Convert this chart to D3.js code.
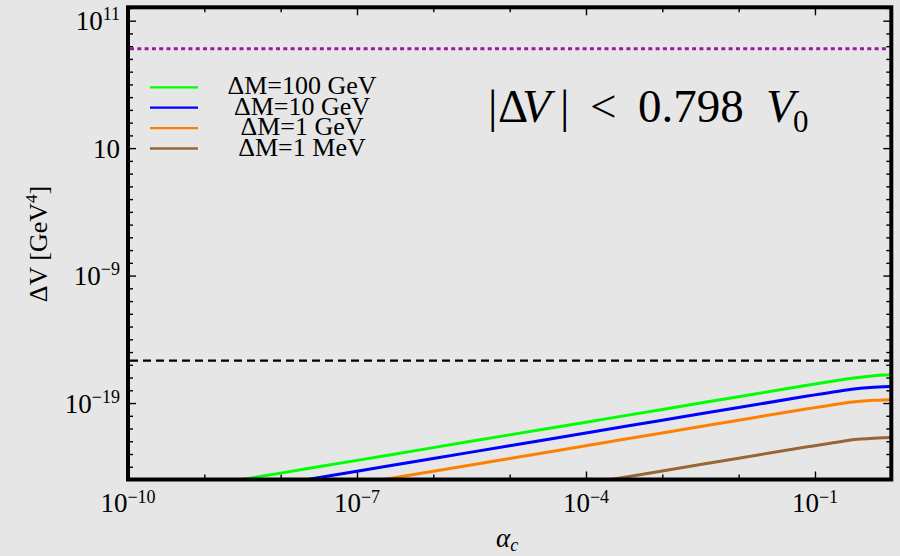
<!DOCTYPE html>
<html>
<head>
<meta charset="utf-8">
<script src="https://cdn.jsdelivr.net/npm/d3@7"></script>
<style>
  html, body { margin: 0; padding: 0; background: #e6e6e6; }
  svg { display: block; }
  text { font-family: "Liberation Serif", "DejaVu Serif", serif; fill: #000; }
</style>
</head>
<body>
<svg id="chart" width="900" height="556"></svg>
<script>
// alpha_c grid, as log10 values
const alphaLog = [-9, -8, -7, -6, -5, -4, -3, -2, -1, -0.6, -0.4, -0.22, -0.1, 0];

// log10(Delta V), null = below the frame
const green  = [-25.5, -24.5, -23.5, -22.5, -21.5, -20.5, -19.5, -18.5, -17.5, -17.12, -16.97, -16.86, -16.8, -16.78];
const blue   = [null, -25.35, -24.35, -23.35, -22.35, -21.35, -20.35, -19.35, -18.35, -17.97, -17.84, -17.76, -17.72, -17.7];
const orange = [null, null, -25.35, -24.35, -23.35, -22.35, -21.35, -20.35, -19.35, -18.97, -18.84, -18.78, -18.75, -18.74];
const brown  = [null, null, null, null, null, -25.33, -24.33, -23.33, -22.33, -21.95, -21.82, -21.75, -21.72, -21.7];

const seriesNames = ["ΔM=100 GeV", "ΔM=10 GeV", "ΔM=1 GeV", "ΔM=1 MeV"];
const seriesColors = ["#00ff00", "#0000ff", "#ff8000", "#996633"];

// reference levels
const v0Bound = 6.3e8;      // dotted purple
const dashedLevel = 2.1e-16; // dashed black

const xMajor = [1e-10, 1e-7, 1e-4, 1e-1];
const xMajorExp = ["−10", "−7", "−4", "−1"];
const yMajor = [1e11, 10, 1e-9, 1e-19];
const yMajorExp = ["11", "", "−9", "−19"];

const margin = { left: 128, top: 7.3, right: 891.3, bottom: 479.5 };

const svg = d3.select("#chart");

const x = d3.scaleLog().domain([1e-10, 1]).range([margin.left, margin.right]);
const y = d3.scaleLog().domain([1e-25, Math.pow(10, 12.05)]).range([margin.bottom, margin.top]);

const isMajor = (list, v) => list.some(m => Math.abs(Math.log10(m) - Math.log10(v)) < 1e-6);
const xMinor = d3.range(-10, 1).map(e => Math.pow(10, e)).filter(v => !isMajor(xMajor, v));
const yMinor = d3.range(-24, 13).map(e => Math.pow(10, e)).filter(v => v <= y.domain()[1] && !isMajor(yMajor, v));

// clip for the curves
svg.append("defs").append("clipPath").attr("id", "plot-clip")
  .append("rect")
  .attr("x", margin.left).attr("y", margin.top)
  .attr("width", margin.right - margin.left)
  .attr("height", margin.bottom - margin.top);

// ticks, all pointing inward
function addAxis(axisFn, scale, values, size, translate) {
  const g = svg.append("g")
    .attr("transform", translate)
    .call(axisFn(scale).tickValues(values).tickSize(-size).tickFormat(""));
  g.select(".domain").remove();
  g.selectAll(".tick line").attr("stroke", "#000").attr("stroke-width", 1.4);
  return g;
}

addAxis(d3.axisBottom, x, xMajor, 8, `translate(0,${margin.bottom})`);
addAxis(d3.axisBottom, x, xMinor, 5, `translate(0,${margin.bottom})`);
addAxis(d3.axisTop, x, xMajor, 8, `translate(0,${margin.top})`);
addAxis(d3.axisTop, x, xMinor, 5, `translate(0,${margin.top})`);
addAxis(d3.axisLeft, y, yMajor, 8, `translate(${margin.left},0)`);
addAxis(d3.axisLeft, y, yMinor, 5, `translate(${margin.left},0)`);
addAxis(d3.axisRight, y, yMajor, 8, `translate(${margin.right},0)`);
addAxis(d3.axisRight, y, yMinor, 5, `translate(${margin.right},0)`);

// tick labels with superscripts
const xLabels = svg.append("g").attr("font-size", 27);
xMajor.forEach((v, i) => {
  const t = xLabels.append("text")
    .attr("x", x(v)).attr("y", 512)
    .attr("text-anchor", "middle");
  t.append("tspan").text("10");
  t.append("tspan").attr("font-size", 18).attr("dy", -9).text(xMajorExp[i]);
});

const yLabels = svg.append("g").attr("font-size", 27);
yMajor.forEach((v, i) => {
  const t = yLabels.append("text")
    .attr("x", 120).attr("y", y(v) + 9.5)
    .attr("text-anchor", "end");
  t.append("tspan").text("10");
  if (yMajorExp[i]) t.append("tspan").attr("font-size", 18).attr("dy", -10).text(yMajorExp[i]);
});

// reference lines
svg.append("line")
  .attr("x1", margin.left + 2).attr("x2", margin.right - 2)
  .attr("y1", y(v0Bound)).attr("y2", y(v0Bound))
  .attr("stroke", "#9c1a9c").attr("stroke-width", 3)
  .attr("stroke-dasharray", "4,3.3");

svg.append("line")
  .attr("x1", margin.left + 2).attr("x2", margin.right - 2)
  .attr("y1", y(dashedLevel)).attr("y2", y(dashedLevel))
  .attr("stroke", "#000").attr("stroke-width", 2.2)
  .attr("stroke-dasharray", "8,5");

// curves
const line = d3.line()
  .defined(d => d[1] !== null)
  .x(d => x(Math.pow(10, d[0])))
  .y(d => y(Math.pow(10, d[1])))
  .curve(d3.curveBasis);

const curves = svg.append("g").attr("clip-path", "url(#plot-clip)");
[green, blue, orange, brown].forEach((vals, i) => {
  const pts = alphaLog.map((a, k) => [a, vals[k]]);
  curves.append("path")
    .datum(pts)
    .attr("fill", "none")
    .attr("stroke", seriesColors[i])
    .attr("stroke-width", 3)
    .attr("d", line);
});

// frame
svg.append("rect")
  .attr("x", margin.left).attr("y", margin.top)
  .attr("width", margin.right - margin.left)
  .attr("height", margin.bottom - margin.top)
  .attr("fill", "none").attr("stroke", "#000").attr("stroke-width", 4);

// legend
const legend = svg.append("g").attr("font-size", 26);
seriesNames.forEach((name, i) => {
  const ly = 87.3 + i * 20.4;
  legend.append("line")
    .attr("x1", 150).attr("x2", 198)
    .attr("y1", ly).attr("y2", ly)
    .attr("stroke", seriesColors[i]).attr("stroke-width", 2.3);
  legend.append("text")
    .attr("x", 302).attr("y", ly + 7)
    .attr("text-anchor", "middle")
    .text(name);
});

// annotation |ΔV| < 0.798 V0
const ann = svg.append("text").attr("y", 121.7).attr("font-size", 47);
ann.append("tspan").attr("x", 488).text("|");
ann.append("tspan").attr("x", 498).text("Δ");
ann.append("tspan").attr("x", 522).attr("font-style", "italic").text("V");
ann.append("tspan").attr("x", 560).text("|");
ann.append("tspan").attr("x", 590).text("<");
ann.append("tspan").attr("x", 638).text("0.798");
ann.append("tspan").attr("x", 766).attr("font-style", "italic").text("V");
ann.append("tspan").attr("x", 793).attr("dy", 10).attr("font-size", 31).text("0");

// axis titles
const yTitle = svg.append("text")
  .attr("transform", "translate(47,244) rotate(-90)")
  .attr("text-anchor", "middle")
  .attr("font-size", 26);
yTitle.append("tspan").text("ΔV [GeV");
yTitle.append("tspan").attr("font-size", 17).attr("dy", -10).text("4");
yTitle.append("tspan").attr("dy", 10).text("]");

const xTitle = svg.append("text")
  .attr("x", 496).attr("y", 547)
  .attr("font-size", 27).attr("font-style", "italic");
xTitle.append("tspan").text("α");
xTitle.append("tspan").attr("font-size", 18).attr("dy", 4).text("c");
</script>
</body>
</html>
